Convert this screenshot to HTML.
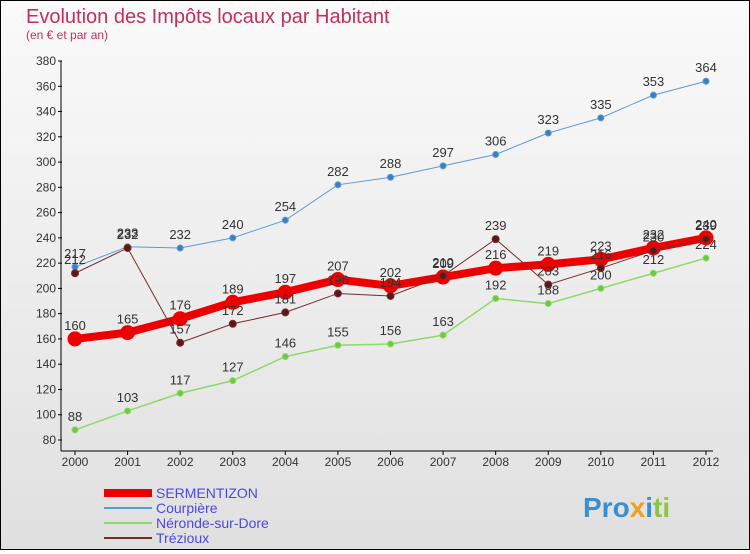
<!DOCTYPE html>
<html><head><meta charset="utf-8"><style>
body{margin:0;width:750px;height:550px;overflow:hidden;font-family:"Liberation Sans",sans-serif}
#wrap{position:relative;width:748px;height:548px;border:1px solid #000;background:linear-gradient(#fafafa,#e0e0e0)}
</style></head><body>
<div id="wrap">
<svg id="chart" width="748" height="548"></svg>
</div>
<script>
const years=[2000,2001,2002,2003,2004,2005,2006,2007,2008,2009,2010,2011,2012];
const yTicks=[80,100,120,140,160,180,200,220,240,260,280,300,320,340,360,380];
const sermentizon=[160,165,176,189,197,207,202,209,216,219,223,232,240];
const courpiere=[217,233,232,240,254,282,288,297,306,323,335,353,364];
const neronde=[88,103,117,127,146,155,156,163,192,188,200,212,224];
const trezioux=[212,232,157,172,181,196,194,210,239,203,216,230,239];
const NS='http://www.w3.org/2000/svg';
const svg=document.getElementById('chart');
const X=i=>74+i*(631/12);
const Y=v=>439-(v-80)*(379/300);
function el(t,a,txt){const e=document.createElementNS(NS,t);for(const k in a)e.setAttribute(k,a[k]);if(txt!==undefined)e.textContent=txt;svg.appendChild(e);return e;}
let t=el('text',{x:25,y:22,'font-size':20,fill:'#c0305a','font-weight':'300'},'Evolution des Impôts locaux par Habitant');

t=el('text',{x:25,y:38,'font-size':12,fill:'#c0305a'},'(en € et par an)');

let a=el('line',{x1:60,y1:60,x2:60,y2:450,stroke:'#000'});

a=el('line',{x1:60,y1:450,x2:712,y2:450,stroke:'#000'});

yTicks.forEach(v=>{
 const l=el('line',{x1:57,y1:Y(v),x2:61,y2:Y(v),stroke:'#000'});
 
 const tt=el('text',{x:55,y:Y(v)+4,'font-size':12,fill:'#333','text-anchor':'end'},v);
 
});
years.forEach((y,i)=>{
 const l=el('line',{x1:X(i),y1:450,x2:X(i),y2:454,stroke:'#000'});
 
 const tt=el('text',{x:X(i),y:465,'font-size':12,fill:'#333','text-anchor':'middle'},y);
 
});
function series(data,color,w,r,dot,name){
 const p=el('polyline',{points:data.map((v,i)=>X(i)+','+Y(v)).join(' '),fill:'none',stroke:color,'stroke-width':w});
 
 data.forEach((v,i)=>{
  const c=el('circle',{cx:X(i),cy:Y(v),r:r,fill:dot,stroke:color,'stroke-width':1});
  
  const tt=el('text',{x:X(i),y:Y(v)-9,'font-size':13,fill:'#333','text-anchor':'middle'},v);
  
 });
}
series(courpiere,'#5b9bd5',1,3,'#3a7fc0','courpiere');
series(neronde,'#8fd86a',1.5,3,'#6cc83c','neronde');
series(sermentizon,'#ee0000',8,7,'#ee0000','sermentizon');
series(trezioux,'#7a2a2a',1,3.5,'#5a1818','trezioux');
const leg=[['SERMENTIZON','#ee0000',8],['Courpière','#5b9bd5',2],['Néronde-sur-Dore','#8fd86a',2],['Trézioux','#7a2a2a',2]];
leg.forEach((d,i)=>{
 const y=492+i*15;
 const l=el('line',{x1:103,y1:y,x2:151,y2:y,stroke:d[1],'stroke-width':d[2]});
 
 const tt=el('text',{x:155,y:y+5,'font-size':14,fill:'#4a4ae0'},d[0]);
 
});
t=el('text',{x:582,y:516,'font-size':28,'font-weight':'bold',fill:'#3a8fd0'});

t.innerHTML='<tspan fill="#3a8fd0">Pro</tspan><tspan fill="#f0a020">x</tspan><tspan fill="#3a8fd0">i</tspan><tspan fill="#8cc63f">ti</tspan>';
</script>
</body></html>
